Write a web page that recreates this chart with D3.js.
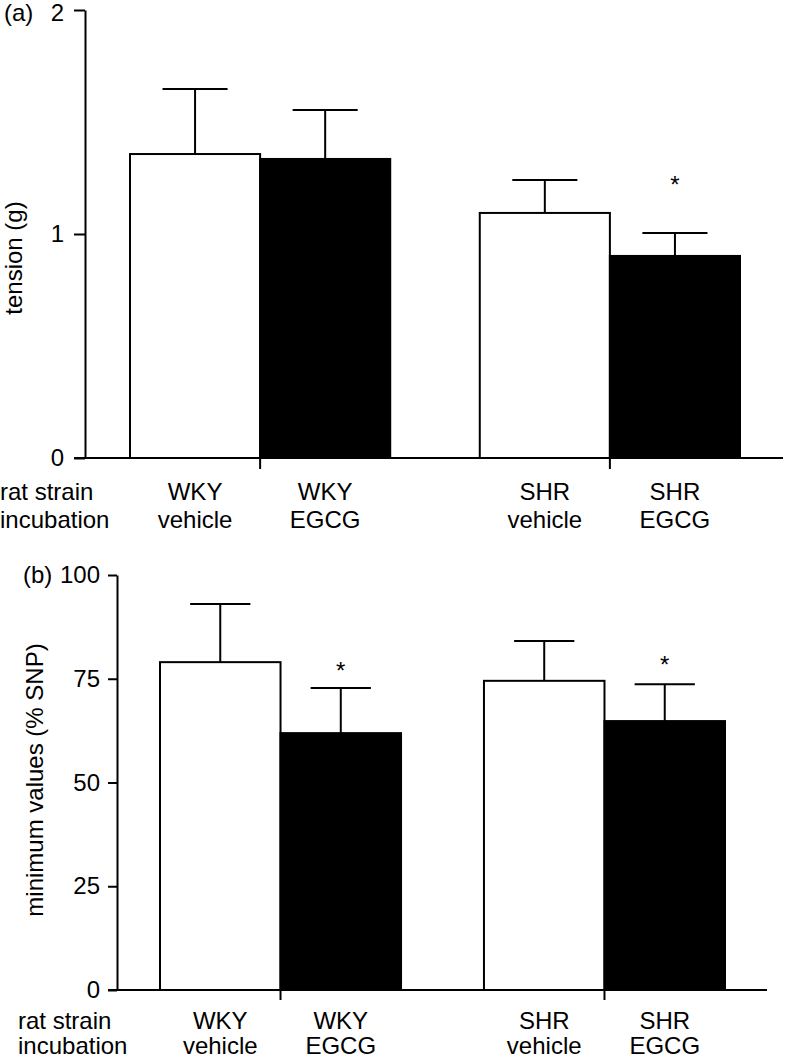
<!DOCTYPE html>
<html>
<head>
<meta charset="utf-8">
<script src="https://cdn.jsdelivr.net/npm/d3@7"></script>
<style>
  html, body { margin: 0; padding: 0; background: #fff; }
  svg { display: block; font-family: "Liberation Sans", Arial, Helvetica, sans-serif; }
</style>
</head>
<body>
<svg id="chart" width="786" height="1061"></svg>
<script>
// ---------------- DATA ----------------
const strains = ["WKY", "WKY", "SHR", "SHR"];
const incubations = ["vehicle", "EGCG", "vehicle", "EGCG"];
const groups = ["WKY", "SHR"];
const treatments = ["vehicle", "EGCG"];
const barFills = ["#ffffff", "#000000"];

// panel (a): tension (g)
const tensionMean = [1.357, 1.335, 1.094, 0.902];
const tensionSem  = [0.290, 0.219, 0.147, 0.102];
const tensionStar = [null, null, null, 1.24];
const tensionTicks = [0, 1, 2];

// panel (b): minimum values (% SNP)
const snpMean = [79.0, 61.9, 74.5, 64.8];
const snpSem  = [14.0, 10.9, 9.6, 8.9];
const snpStar = [null, 78.1, null, 79.5];
const snpTicks = [0, 25, 50, 75, 100];

const rowLabels = ["rat strain", "incubation"];

// ---------------- LAYOUT ----------------
const panels = [
  { tag: "(a)", title: "tension (g)", mean: tensionMean, sem: tensionSem, star: tensionStar,
    ticks: tensionTicks, domain: [0, 2],
    axisX: 85, yTop: 10, yBottom: 458, xAxisStart: 74, xAxisEnd: 783,
    barRange: [130, 740], tickLen: 11, tickPad: 10, topNudge: 3,
    titleX: 22, titleY: 258, tagX: 4, rowX: 0, rowY: [500, 528], groupTick: 11 },
  { tag: "(b)", title: "minimum values (% SNP)", mean: snpMean, sem: snpSem, star: snpStar,
    ticks: snpTicks, domain: [0, 100],
    axisX: 117, yTop: 575, yBottom: 990, xAxisStart: 108, xAxisEnd: 767,
    barRange: [160, 725], tickLen: 9, tickPad: 8, topNudge: 0,
    titleX: 43, titleY: 780, tagX: 23, rowX: 18, rowY: [1029, 1054], groupTick: 10 }
];

const svg = d3.select("#chart");
const FS = 24;
const SW = 2;

panels.forEach(p => {
  const g = svg.append("g");
  const y = d3.scaleLinear().domain(p.domain).range([p.yBottom, p.yTop]);
  const xGroup = d3.scaleBand().domain(groups).range(p.barRange).paddingInner(0.256).paddingOuter(0);
  const xInner = d3.scaleBand().domain(treatments).range([0, xGroup.bandwidth()]).padding(0);
  const bw = xInner.bandwidth();

  const rows = strains.map((s, i) => ({
    strain: s, inc: incubations[i], mean: p.mean[i], sem: p.sem[i], star: p.star[i],
    x: xGroup(s) + xInner(incubations[i]), fill: barFills[treatments.indexOf(incubations[i])]
  }));

  // error bars (drawn before bars so the bar top covers the stem base)
  const eb = g.append("g").attr("stroke", "#000").attr("stroke-width", SW).attr("fill", "none");
  rows.forEach(d => {
    const cx = d.x + bw / 2;
    eb.append("line").attr("x1", cx).attr("x2", cx).attr("y1", y(d.mean)).attr("y2", y(d.mean + d.sem));
    eb.append("line").attr("x1", cx - bw / 4).attr("x2", cx + bw / 4)
      .attr("y1", y(d.mean + d.sem)).attr("y2", y(d.mean + d.sem));
  });

  // bars
  g.append("g").selectAll("rect").data(rows).join("rect")
    .attr("x", d => d.x)
    .attr("y", d => y(d.mean))
    .attr("width", bw)
    .attr("height", d => y(0) - y(d.mean))
    .attr("fill", d => d.fill)
    .attr("stroke", "#000")
    .attr("stroke-width", SW);

  // stars
  g.append("g").selectAll("text").data(rows.filter(d => d.star != null)).join("text")
    .attr("x", d => d.x + bw / 2)
    .attr("y", d => y(d.star) + 13)
    .attr("text-anchor", "middle")
    .attr("font-size", FS)
    .text("*");

  // y axis
  const ya = g.append("g").attr("transform", `translate(${p.axisX},0)`)
    .call(d3.axisLeft(y).tickValues(p.ticks).tickSize(p.tickLen).tickSizeOuter(0).tickPadding(p.tickPad)
      .tickFormat(d3.format("d")));
  ya.selectAll("path, line").attr("stroke", "#000").attr("stroke-width", SW);
  ya.selectAll("text").attr("font-size", FS).attr("fill", "#000")
    .attr("font-family", "'Liberation Sans', Arial, Helvetica, sans-serif");
  ya.selectAll(".tick").filter(d => d === p.domain[1]).select("text")
    .attr("y", p.topNudge);

  // x axis baseline
  g.append("line")
    .attr("x1", p.xAxisStart).attr("x2", p.xAxisEnd)
    .attr("y1", y(0)).attr("y2", y(0))
    .attr("stroke", "#000").attr("stroke-width", SW);

  // group separator ticks below axis
  g.append("g").selectAll("line").data(groups).join("line")
    .attr("x1", d => xGroup(d) + xGroup.bandwidth() / 2)
    .attr("x2", d => xGroup(d) + xGroup.bandwidth() / 2)
    .attr("y1", y(0)).attr("y2", y(0) + p.groupTick)
    .attr("stroke", "#000").attr("stroke-width", SW);

  // category labels (two rows)
  const lab = g.append("g").attr("font-size", FS).attr("fill", "#000");
  rows.forEach(d => {
    lab.append("text").attr("x", d.x + bw / 2).attr("y", p.rowY[0]).attr("text-anchor", "middle").text(d.strain);
    lab.append("text").attr("x", d.x + bw / 2).attr("y", p.rowY[1]).attr("text-anchor", "middle").text(d.inc);
  });
  rowLabels.forEach((t, i) => {
    lab.append("text").attr("x", p.rowX).attr("y", p.rowY[i]).attr("text-anchor", "start").text(t);
  });

  // y title
  g.append("text")
    .attr("transform", `translate(${p.titleX},${p.titleY}) rotate(-90)`)
    .attr("text-anchor", "middle")
    .attr("font-size", FS)
    .text(p.title);

  // panel tag
  g.append("text")
    .attr("x", p.tagX).attr("y", y(p.domain[1]) + p.topNudge).attr("dy", "0.32em")
    .attr("font-size", FS)
    .text(p.tag);
});
</script>
</body>
</html>
